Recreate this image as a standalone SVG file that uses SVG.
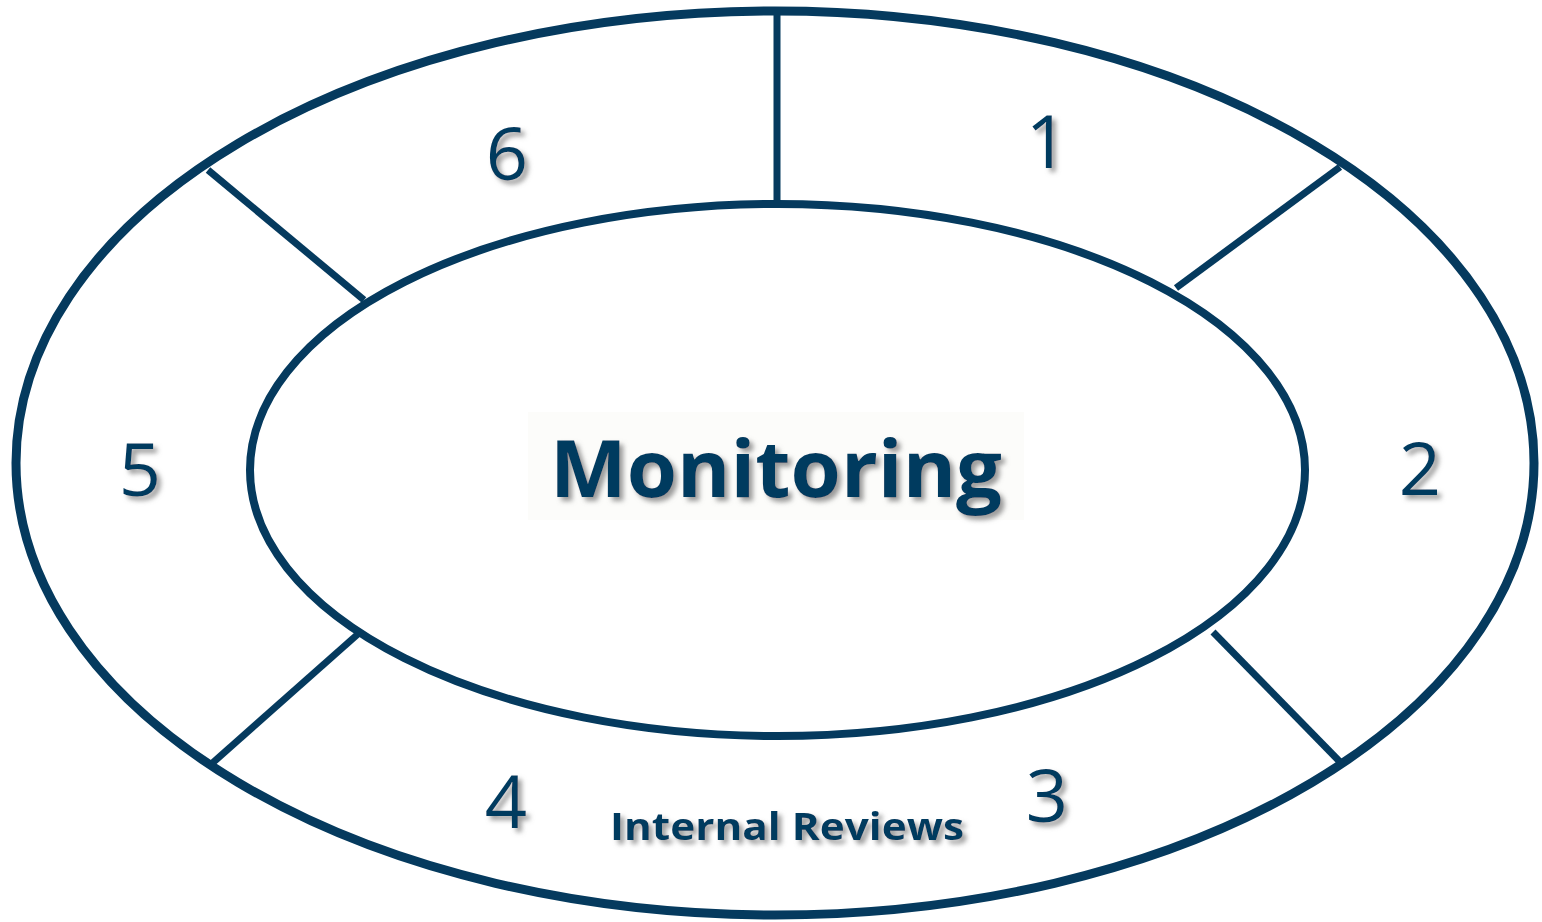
<svg xmlns="http://www.w3.org/2000/svg" width="1542" height="922" viewBox="0 0 1542 922">
  <defs>
    <filter id="shadow" x="-10%" y="-20%" width="130%" height="150%">
      <feDropShadow dx="4" dy="4" stdDeviation="2.5" flood-color="#7a7a7a" flood-opacity="0.75"/>
    </filter>
  </defs>
  <style>
    .ring { fill: none; stroke: #053A5E; }
    .spoke { stroke: #053A5E; stroke-width: 7; fill: none; }
    .num { font-family: "Open Sans", "Liberation Sans", sans-serif; font-size: 74px; fill: #053A5E; text-anchor: middle; filter: url(#shadow); }
    .title { font-family: "Open Sans", "DejaVu Sans", sans-serif; font-weight: bold; fill: #053A5E; text-anchor: middle; filter: url(#shadow); }
  </style>
  <rect width="1542" height="922" fill="#ffffff"/>

  <g id="outer-ring">
    <ellipse class="ring" cx="775" cy="463" rx="759" ry="452" stroke-width="9"/>
  </g>
  <g id="inner-ring">
    <ellipse class="ring" cx="777.5" cy="470" rx="527.5" ry="266" stroke-width="8"/>
  </g>

  <g id="connectors">
    <line class="spoke" x1="777" y1="14" x2="777" y2="202"/>
    <line class="spoke" x1="1340" y1="167" x2="1176" y2="288"/>
    <line class="spoke" x1="1213" y1="632" x2="1344" y2="766"/>
    <line class="spoke" x1="358" y1="634" x2="209" y2="766"/>
    <line class="spoke" x1="208" y1="170" x2="364" y2="300"/>
  </g>

  <g id="segment-1"><text class="num" x="1047" y="168">1</text></g>
  <g id="segment-2"><text class="num" x="1420" y="495">2</text></g>
  <g id="segment-3"><text class="num" x="1047" y="822">3</text></g>
  <g id="segment-4"><text class="num" x="506" y="828">4</text></g>
  <g id="segment-5"><text class="num" x="140" y="496">5</text></g>
  <g id="segment-6"><text class="num" x="507" y="180">6</text></g>

  <g id="center">
    <rect x="528" y="412" width="496" height="108" fill="#fcfcfa"/>
    <text class="title" x="776" y="497" font-size="78" textLength="452" lengthAdjust="spacingAndGlyphs">Monitoring</text>
  </g>

  <g id="internal-reviews">
    <text class="title" x="787" y="840" font-size="38" textLength="354" lengthAdjust="spacingAndGlyphs">Internal Reviews</text>
  </g>
</svg>
